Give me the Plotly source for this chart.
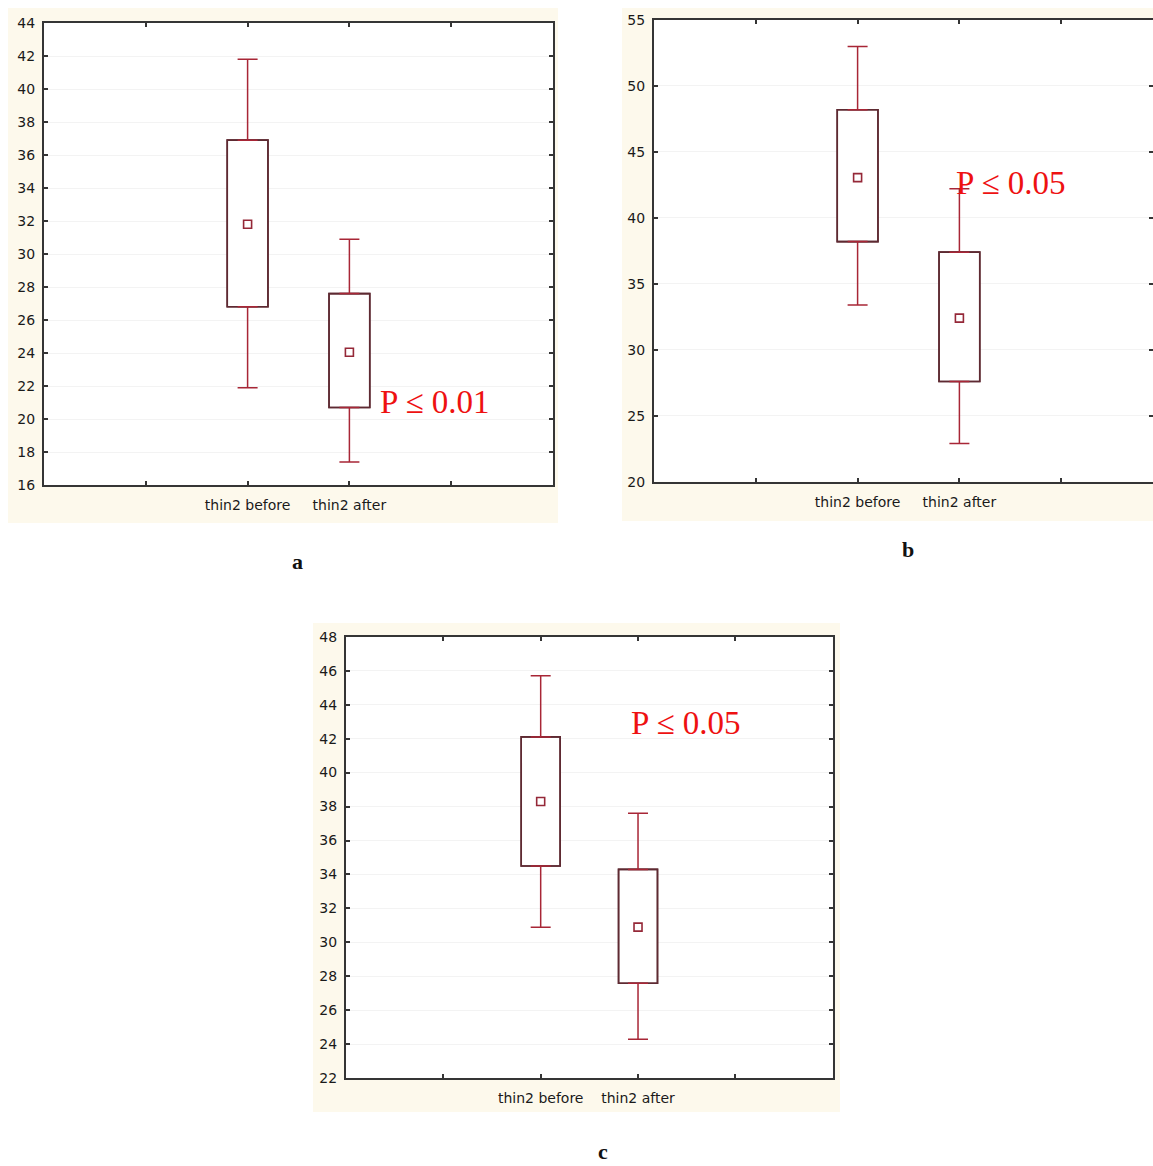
import plotly.graph_objects as go

# ---------------- data ----------------
categories = ["thin2 before", "thin2 after"]

# panel a
a_mean = [31.8, 24.05]
a_box_low = [26.8, 20.7]
a_box_high = [36.9, 27.6]
a_whisk_low = [21.9, 17.4]
a_whisk_high = [41.8, 30.9]
a_yticks = list(range(16, 45, 2))
a_ptext = "P ≤ 0.01"

# panel b
b_mean = [43.05, 32.4]
b_box_low = [38.2, 27.6]
b_box_high = [48.2, 37.4]
b_whisk_low = [33.4, 22.9]
b_whisk_high = [53.0, 42.2]
b_yticks = list(range(20, 56, 5))
b_ptext = "P ≤ 0.05"

# panel c
c_mean = [38.3, 30.9]
c_box_low = [34.5, 27.6]
c_box_high = [42.1, 34.3]
c_whisk_low = [30.9, 24.3]
c_whisk_high = [45.7, 37.6]
c_yticks = list(range(22, 49, 2))
c_ptext = "P ≤ 0.05"

# ---------------- layout helpers ----------------
W, H = 1153, 1166
BOX_COL = "#5e2a32"
WHISK_COL = "#a82636"
MEAN_COL = "#952838"
CREAM = "#fdf9ec"
AXIS_COL = "#353535"

def px_x(p):
    return p / W

def px_y(p):
    return 1 - p / H

fig = go.Figure()

panels = [
    dict(mean=a_mean, lo=a_box_low, hi=a_box_high, wl=a_whisk_low, wh=a_whisk_high,
         yticks=a_yticks, ptext=a_ptext, pxy=(3.84, 21.0),
         dom_x=(44, 553), dom_y=(23, 485), xrange=(0, 5),
         cream=(8, 8, 558, 523), label=("a", 297, 561), capw=10),
    dict(mean=b_mean, lo=b_box_low, hi=b_box_high, wl=b_whisk_low, wh=b_whisk_high,
         yticks=b_yticks, ptext=b_ptext, pxy=(3.51, 42.64),
         dom_x=(654, 1153), dom_y=(20, 481.7), xrange=(0, (1153 - 654) / 101.8),
         cream=(622, 8, 1153, 521), label=("b", 908, 549), capw=10),
    dict(mean=c_mean, lo=c_box_low, hi=c_box_high, wl=c_whisk_low, wh=c_whisk_high,
         yticks=c_yticks, ptext=c_ptext, pxy=(3.49, 42.94),
         dom_x=(346, 832.7), dom_y=(636.7, 1078.3), xrange=(0, 5),
         cream=(313, 623, 840, 1112), label=("c", 603, 1151), capw=10),
]

xpos = [i + 2 for i in range(len(categories))]
shapes = []
annotations = []
layout_axes = {}

for k, p in enumerate(panels):
    suffix = "" if k == 0 else str(k + 1)
    xa, ya = "x" + suffix, "y" + suffix
    # floating box (bar)
    fig.add_trace(go.Bar(
        x=xpos, base=p["lo"], y=[h - l for h, l in zip(p["hi"], p["lo"])],
        width=0.4, marker=dict(color="white", line=dict(color=BOX_COL, width=1.6)),
        xaxis=xa, yaxis=ya, showlegend=False, hoverinfo="skip"))
    # upper whiskers
    fig.add_trace(go.Scatter(
        x=xpos, y=p["hi"], mode="markers", marker=dict(size=1, opacity=0),
        error_y=dict(type="data", symmetric=False,
                     array=[w - h for w, h in zip(p["wh"], p["hi"])],
                     arrayminus=[0] * len(xpos),
                     color=WHISK_COL, thickness=1.5, width=p["capw"]),
        xaxis=xa, yaxis=ya, showlegend=False, hoverinfo="skip"))
    # lower whiskers
    fig.add_trace(go.Scatter(
        x=xpos, y=p["lo"], mode="markers", marker=dict(size=1, opacity=0),
        error_y=dict(type="data", symmetric=False,
                     array=[0] * len(xpos),
                     arrayminus=[l - w for l, w in zip(p["lo"], p["wl"])],
                     color=WHISK_COL, thickness=1.5, width=p["capw"]),
        xaxis=xa, yaxis=ya, showlegend=False, hoverinfo="skip"))
    # redraw box outline on top of the zero-length caps
    fig.add_trace(go.Bar(
        x=xpos, base=p["lo"], y=[h - l for h, l in zip(p["hi"], p["lo"])],
        width=0.4, marker=dict(color="rgba(0,0,0,0)", line=dict(color=BOX_COL, width=1.6)),
        xaxis=xa, yaxis=ya, showlegend=False, hoverinfo="skip"))
    # mean markers
    fig.add_trace(go.Scatter(
        x=xpos, y=p["mean"], mode="markers",
        marker=dict(symbol="square-open", size=8, color=MEAN_COL, line=dict(width=1.6, color=MEAN_COL)),
        xaxis=xa, yaxis=ya, showlegend=False))

    common = dict(showline=True, linecolor=AXIS_COL, linewidth=2, mirror="ticks",
                  ticks="inside", ticklen=4, tickwidth=1.5, tickcolor=AXIS_COL,
                  zeroline=False, automargin=False,
                  tickfont=dict(family="DejaVu Sans", size=14, color="#1a1a1a"))
    layout_axes["xaxis" + suffix] = dict(
        domain=[px_x(p["dom_x"][0]), px_x(p["dom_x"][1])], range=list(p["xrange"]),
        anchor=ya, tickmode="array", tickvals=[1, 2, 3, 4],
        ticktext=[""] + categories + [""], showgrid=False, ticklabelstandoff=6, **common)
    layout_axes["yaxis" + suffix] = dict(
        domain=[px_y(p["dom_y"][1]), px_y(p["dom_y"][0])],
        range=[p["yticks"][0], p["yticks"][-1]], anchor=xa,
        tickmode="array", tickvals=p["yticks"], showgrid=True, gridcolor="#f3f3f3",
        gridwidth=1, ticklabelstandoff=4, **common)

    cx0, cy0, cx1, cy1 = p["cream"]
    shapes.append(dict(type="rect", xref="paper", yref="paper", layer="below",
                       x0=px_x(cx0), x1=px_x(cx1), y0=px_y(cy1), y1=px_y(cy0),
                       fillcolor=CREAM, line=dict(width=0)))
    shapes.append(dict(type="rect", xref=xa + " domain", yref=ya + " domain", layer="below",
                       x0=0, x1=1, y0=0, y1=1, fillcolor="white", line=dict(width=0)))
    annotations.append(dict(text=p["ptext"], x=p["pxy"][0], y=p["pxy"][1], xref=xa, yref=ya,
                            xanchor="center", yanchor="middle",
                            showarrow=False, font=dict(family="Liberation Serif", size=33, color="#ee1111")))
    lab, lx, ly = p["label"]
    annotations.append(dict(text="<b>" + lab + "</b>", x=px_x(lx), y=px_y(ly), xref="paper", yref="paper",
                            xanchor="center", yanchor="middle",
                            showarrow=False, font=dict(family="Liberation Serif", size=22, color="#111111")))

fig.update_layout(width=W, height=H, margin=dict(l=0, r=0, t=0, b=0),
                  paper_bgcolor="white", plot_bgcolor="white",
                  barmode="overlay", shapes=shapes, annotations=annotations, **layout_axes)

fig.write_html("out.html")
